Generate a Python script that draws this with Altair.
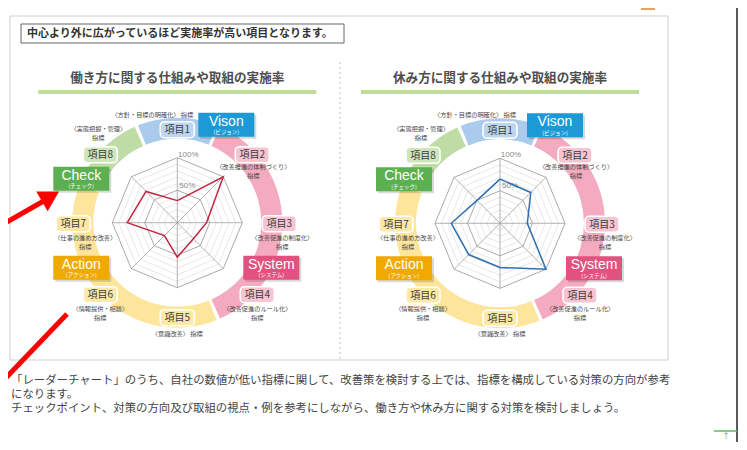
import math
import altair as alt
import pandas as pd

# ------------------------------------------------------------------ data
items = ["項目1", "項目2", "項目3", "項目4", "項目5", "項目6", "項目7", "項目8"]
indicator_line1 = ["〈方針・目標の明確化〉 指標", "〈改善推進の体制づくり〉", "〈改善促進の制度化〉",
                   "〈改善促進のルール化〉", "〈意識改善〉 指標", "〈情報提供・相談〉",
                   "〈仕事の進め方改善〉", "〈実態把握・管理〉"]
indicator_line2 = ["", "指標", "指標", "指標", "", "指標", "指標", "指標"]
work_rates = [34, 100, 45, 35, 53, 28, 77, 68]
rest_rates = [68, 67, 42, 100, 68, 68, 75, 50]
categories = ["Vison", "System", "Action", "Check"]
category_kana = ["(ビジョン)", "(システム)", "(アクション)", "(チェック)"]
panel_titles = ["働き方に関する仕組みや取組の実施率", "休み方に関する仕組みや取組の実施率"]
grid_labels = ["100%", "50%"]
header_text = "中心より外に広がっているほど実施率が高い項目となります。"
note_lines = [
    "「レーダーチャート」のうち、自社の数値が低い指標に関して、改善策を検討する上では、指標を構成している対策の方向が参考",
    "になります。",
    "チェックポイント、対策の方向及び取組の視点・例を参考にしながら、働き方や休み方に関する対策を検討しましょう。",
]

# ------------------------------------------------------------------ layout / style
W, H = 731, 434
XS = alt.Scale(domain=[8, 8 + W], nice=False, zero=False)
YS = alt.Scale(domain=[8, 8 + H], nice=False, zero=False, reverse=True)
JP = "Noto Sans CJK JP"
LAT = "Liberation Sans"
R = 65

ring_colors = ["#abcbec", "#f4aabf", "#fde59b", "#bedda5"]
ring_deg = [(-22, 22), (24, 156), (158, 291), (293, 336)]
item_fill = ["#bcd6f1", "#f7c4d2", "#f7c4d2", "#f7c4d2", "#fde8a8", "#fde8a8", "#fde8a8", "#cfe6bd"]
item_off = [(0, -93), (75, -68), (102, 1), (80, 72), (0, 95), (-77, 72), (-104, 1), (-77, -68)]
ind_off = [(-25, -108), (76, -56), (105, 15), (80, 86), (0, 111), (-77, 86), (-92, 15), (-79, -94)]
cat_colors = ["#1d9ad6", "#e3527f", "#f0a900", "#5cb052"]
cat_off = [(49, -98), (94, 45), (-96, 45), (-96, -44)]


def xq(f):
    return alt.X(f"{f}:Q", scale=XS, axis=None)


def yq(f):
    return alt.Y(f"{f}:Q", scale=YS, axis=None)


def rect_layer(df, **mark):
    return alt.Chart(df).mark_rect(**mark).encode(
        x=xq("x0"), x2=alt.X2("x1:Q"), y=yq("y0"), y2=alt.Y2("y1:Q"))


def text_layer(df, **mark):
    return alt.Chart(df).mark_text(**mark).encode(x=xq("x"), y=yq("y"), text="t:N")


def rule_layer(df, **mark):
    return alt.Chart(df).mark_rule(**mark).encode(
        x=xq("x0"), x2=alt.X2("x1:Q"), y=yq("y0"), y2=alt.Y2("y1:Q"))


def panel(cx, cy, rates, line_color, title, vdx=0):
    layers = []
    # coloured ring segments
    arc_df = pd.DataFrame({
        "t0": [math.radians(a) for a, b in ring_deg],
        "t1": [math.radians(b) for a, b in ring_deg],
        "fill": ring_colors,
    })
    layers.append(
        alt.Chart(arc_df).transform_calculate(cx=str(cx), cy=str(cy))
        .mark_arc(radius=105, radius2=84)
        .encode(x=xq("cx"), y=yq("cy"),
                theta=alt.Theta("t0:Q", scale=None, stack=None),
                theta2=alt.Theta2("t1:Q"),
                color=alt.Color("fill:N", scale=None))
    )
    # grid rings
    grid = pd.DataFrame([{"level": l, "k": k} for l in range(1, 11) for k in range(9)])
    for major, col, sw in [(False, "#dcdcdc", 0.7), (True, "#a0a0a0", 0.9)]:
        flt = "datum.level % 5 == 0" if major else "datum.level % 5 != 0"
        layers.append(
            alt.Chart(grid).transform_filter(flt).transform_calculate(
                px=f"{cx} + {R} * datum.level / 10 * sin(datum.k * PI / 4)",
                py=f"{cy} - {R} * datum.level / 10 * cos(datum.k * PI / 4)")
            .mark_line(color=col, strokeWidth=sw)
            .encode(x=xq("px"), y=yq("py"), detail="level:N", order="k:Q")
        )
    # spokes
    spokes = pd.DataFrame({"k": list(range(8))})
    layers.append(
        alt.Chart(spokes).transform_calculate(
            x0=str(cx), y0=str(cy),
            x1=f"{cx} + {R} * sin(datum.k * PI / 4)",
            y1=f"{cy} - {R} * cos(datum.k * PI / 4)")
        .mark_rule(color="#a0a0a0", strokeWidth=0.8)
        .encode(x=xq("x0"), y=yq("y0"), x2=alt.X2("x1:Q"), y2=alt.Y2("y1:Q"))
    )
    # grid labels
    layers.append(text_layer(pd.DataFrame({
        "x": [cx + 11, cx + 10], "y": [cy - 68, cy - 37], "t": grid_labels}),
        font=LAT, fontSize=8, color="#8a8a8a"))
    # radar polygon
    poly = pd.DataFrame({"k": list(range(9)), "rate": rates + rates[:1]})
    layers.append(
        alt.Chart(poly).transform_calculate(
            px=f"{cx} + {R} * datum.rate / 100 * sin(datum.k * PI / 4)",
            py=f"{cy} - {R} * datum.rate / 100 * cos(datum.k * PI / 4)")
        .mark_line(color=line_color, strokeWidth=1.5)
        .encode(x=xq("px"), y=yq("py"), order="k:Q")
    )
    # item boxes
    ib = pd.DataFrame({
        "x0": [cx + dx - 17 for dx, dy in item_off], "x1": [cx + dx + 17 for dx, dy in item_off],
        "y0": [cy + dy - 8 for dx, dy in item_off], "y1": [cy + dy + 8 for dx, dy in item_off],
        "fill": item_fill})
    layers.append(
        alt.Chart(ib).mark_rect(cornerRadius=4, stroke="white", strokeWidth=1.6)
        .encode(x=xq("x0"), x2=alt.X2("x1:Q"), y=yq("y0"), y2=alt.Y2("y1:Q"),
                color=alt.Color("fill:N", scale=None))
    )
    layers.append(text_layer(pd.DataFrame({
        "x": [cx + dx for dx, dy in item_off], "y": [cy + dy + 0.5 for dx, dy in item_off], "t": items}),
        font=JP, fontSize=10, color="#3c3c3c", baseline="middle"))
    # indicator captions
    l1 = pd.DataFrame({"x": [cx + dx for dx, dy in ind_off], "y": [cy + dy for dx, dy in ind_off],
                       "t": indicator_line1})
    l2 = pd.DataFrame({"x": [cx + dx for dx, dy in ind_off], "y": [cy + dy + 9 for dx, dy in ind_off],
                       "t": indicator_line2})
    l2 = l2[l2["t"] != ""]
    for d in (l1, l2):
        layers.append(text_layer(d, font=JP, fontSize=6.2, color="#444444", baseline="middle"))
    # category boxes
    cb = pd.DataFrame({
        "x0": [cx + dx - 28 + (vdx if i == 0 else 0) for i, (dx, dy) in enumerate(cat_off)],
        "x1": [cx + dx + 28 + (vdx if i == 0 else 0) for i, (dx, dy) in enumerate(cat_off)],
        "y0": [cy + dy - 12 for dx, dy in cat_off], "y1": [cy + dy + 12 for dx, dy in cat_off],
        "fill": cat_colors})
    shadow = cb.copy()
    shadow[["x0", "x1"]] += 2
    shadow[["y0", "y1"]] += 2
    layers.append(rect_layer(shadow, color="#000000", opacity=0.15))
    layers.append(
        alt.Chart(cb).mark_rect()
        .encode(x=xq("x0"), x2=alt.X2("x1:Q"), y=yq("y0"), y2=alt.Y2("y1:Q"),
                color=alt.Color("fill:N", scale=None))
    )
    cxs = [cx + dx + (vdx if i == 0 else 0) for i, (dx, dy) in enumerate(cat_off)]
    layers.append(text_layer(pd.DataFrame({
        "x": cxs, "y": [cy + dy - 3 for dx, dy in cat_off], "t": categories}),
        font=LAT, fontSize=14, color="white", baseline="middle"))
    layers.append(text_layer(pd.DataFrame({
        "x": cxs, "y": [cy + dy + 7.5 for dx, dy in cat_off], "t": category_kana}),
        font=JP, fontSize=5.5, color="white", baseline="middle"))
    # title + hatched bar
    layers.append(text_layer(pd.DataFrame({"x": [cx], "y": [78], "t": [title]}),
                             font=JP, fontSize=12.6, fontWeight="bold", color="#4d4d4d", baseline="middle"))
    layers.append(rect_layer(pd.DataFrame({"x0": [cx - 139], "x1": [cx + 139], "y0": [90], "y1": [94]}),
                             color="#bddd98"))
    return layers


layers = []
# panel frame
layers.append(rect_layer(pd.DataFrame({"x0": [10], "x1": [668], "y0": [16], "y1": [360]}),
                         fill="white", stroke="#cfcfcf", strokeWidth=1))
# header box
layers.append(rect_layer(pd.DataFrame({"x0": [21], "x1": [344], "y0": [24], "y1": [43]}),
                         fill="white", stroke="#666666", strokeWidth=1))
layers.append(text_layer(pd.DataFrame({"x": [27], "y": [34], "t": [header_text]}),
                         font=JP, fontSize=11, fontWeight="bold", color="#333333",
                         align="left", baseline="middle"))
# divider
layers.append(rule_layer(pd.DataFrame({"x0": [340], "x1": [340], "y0": [62], "y1": [360]}),
                         color="#cccccc", strokeDash=[2, 3], strokeWidth=1.2))

layers += panel(177.3, 222.7, work_rates, "#c3263f", panel_titles[0])
layers += panel(500.0, 223.3, rest_rates, "#2c6fb2", panel_titles[1], vdx=6)

# notes
layers.append(text_layer(pd.DataFrame({"x": [11, 11, 11], "y": [381, 395, 409], "t": note_lines}),
                         font=JP, fontSize=11.4, color="#444444", align="left", baseline="middle"))

# red annotation arrows
layers.append(rule_layer(pd.DataFrame({"x0": [0, 67], "x1": [49, 0], "y0": [226, 314], "y1": [198, 384]}),
                         color="#ff0000", strokeWidth=5))
layers.append(
    alt.Chart(pd.DataFrame({"x": [50.5], "y": [196.5]}))
    .mark_point(shape="triangle-up", filled=True, size=520, angle=60, color="#ff0000", opacity=1)
    .encode(x=xq("x"), y=yq("y"))
)

# page chrome on the right
layers.append(rule_layer(pd.DataFrame({"x0": [737], "x1": [737], "y0": [8], "y1": [442]}),
                         color="#222222", strokeWidth=1.5))
layers.append(rule_layer(pd.DataFrame({"x0": [714], "x1": [737], "y0": [431], "y1": [431]}),
                         color="#5cb85c", strokeWidth=1.5))
layers.append(text_layer(pd.DataFrame({"x": [726], "y": [436.5], "t": ["↑"]}),
                         font=JP, fontSize=7.5, color="#5cb85c", baseline="middle"))
layers.append(rect_layer(pd.DataFrame({"x0": [641], "x1": [655], "y0": [8], "y1": [10]}),
                         color="#e8a25a"))

chart = alt.layer(*layers).properties(
    width=W, height=H, padding=0, autosize=alt.AutoSizeParams(type="none")
).configure_view(stroke=None)

chart.save("out.html", embed_options={"renderer": "svg", "actions": False})
